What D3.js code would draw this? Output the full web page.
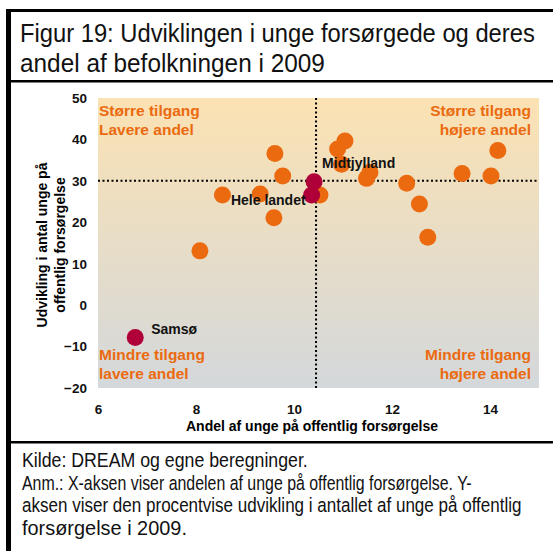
<!DOCTYPE html>
<html>
<head>
<meta charset="utf-8">
<script src="https://cdn.jsdelivr.net/npm/d3@7.9.0/dist/d3.min.js"></script>
<style>
  body { margin: 0; background: #fff; }
  svg { display: block; }
</style>
</head>
<body>
<svg width="553" height="551"></svg>
<script>
// municipalities / regions: share of young people on public support (x) and growth in % (y)
const orangeX = [9.61, 9.77, 8.54, 9.31, 9.59, 8.08, 11.04, 10.89, 10.97, 11.55, 11.48, 12.30, 12.56, 12.73, 13.43, 14.02, 14.16, 10.53];
const orangeY = [36.6, 31.2, 26.6, 26.8, 21.1, 13.1, 39.6, 37.7, 34.0, 32.1, 30.6, 29.4, 24.4, 16.4, 31.8, 31.2, 37.3, 26.6];

const namedLabels = ["Midtjylland", "Hele landet", "Samsø"];
const namedX = [10.41, 10.36, 6.76];
const namedY = [29.8, 26.6, -7.8];

const xTicks = [6, 8, 10, 12, 14];
const yTicks = [-20, -10, 0, 10, 20, 30, 40, 50];
const refX = 10.45; // Hele landet andel
const refY = 30;

const titleLines = ["Figur 19: Udviklingen i unge forsørgede og deres", "andel af befolkningen i 2009"];
const noteLines = [
  "Kilde: DREAM og egne beregninger.",
  "Anm.: X-aksen viser andelen af unge på offentlig forsørgelse. Y-",
  "aksen viser den procentvise udvikling i antallet af unge på offentlig",
  "forsørgelse i 2009."
];

const svg = d3.select("svg");
const W = 553, H = 551;
const plot = { left: 98, right: 539, top: 98, bottom: 388 };
const orange = "#eb6a0f";
const crimson = "#b0003a";
const sans = "'Liberation Sans', Arial, sans-serif";

// frame
svg.append("rect").attr("x", 6).attr("y", 9).attr("width", 5).attr("height", H - 9).attr("fill", "#000");
svg.append("rect").attr("x", 6).attr("y", 9).attr("width", W - 6).attr("height", 3).attr("fill", "#000");
svg.append("rect").attr("x", 6).attr("y", 80).attr("width", W - 6).attr("height", 2.5).attr("fill", "#000");
svg.append("rect").attr("x", 6).attr("y", 441).attr("width", W - 6).attr("height", 2.5).attr("fill", "#000");

// narrow look: regular sans squeezed so each line spans its width in the original
function narrowLines(lines, x0, y0, step, size, widths) {
  lines.forEach((s, i) => {
    const g = svg.append("g");
    const t = g.append("text").attr("x", 0).attr("y", 0)
      .style("font-family", sans).style("font-size", size + "px").attr("fill", "#111")
      .text(s);
    const k = widths[i] / t.node().getComputedTextLength();
    g.attr("transform", `translate(${x0},${y0 + i * step}) scale(${k},1)`);
  });
}
narrowLines(titleLines, 20, 42, 30, 26.5, [515, 305]);
narrowLines(noteLines, 22, 467, 22.5, 19.5, [286, 450, 500, 165]);

const x = d3.scaleLinear().domain([6, 15]).range([plot.left, plot.right]);
const y = d3.scaleLinear().domain([-20, 50]).range([plot.bottom, plot.top]);

// background gradient
const grad = svg.append("defs").append("linearGradient")
  .attr("id", "bg").attr("x1", 0).attr("y1", 0).attr("x2", 0).attr("y2", 1);
grad.append("stop").attr("offset", "0%").attr("stop-color", "#fbe2b3");
grad.append("stop").attr("offset", "100%").attr("stop-color", "#d4d8db");

svg.append("rect")
  .attr("x", x(6)).attr("y", y(50))
  .attr("width", x(15) - x(6)).attr("height", y(-20) - y(50))
  .attr("fill", "url(#bg)");

// axes (labels only)
const xAxis = svg.append("g")
  .attr("transform", `translate(0,${plot.bottom})`)
  .call(d3.axisBottom(x).tickValues(xTicks).tickSize(0).tickPadding(16));
const yAxis = svg.append("g")
  .attr("transform", `translate(${plot.left},0)`)
  .call(d3.axisLeft(y).tickValues(yTicks).tickSize(0).tickPadding(11));
[xAxis, yAxis].forEach(g => {
  g.select(".domain").remove();
  g.selectAll("text").style("font-family", sans).style("font-size", "13.5px")
    .style("font-weight", "bold").attr("fill", "#111");
});

// axis titles
svg.append("text")
  .attr("x", 312).attr("y", 431)
  .attr("text-anchor", "middle")
  .style("font-family", sans).style("font-size", "14px").style("font-weight", "bold")
  .text("Andel af unge på offentlig forsørgelse");

const yTitle = svg.append("text")
  .attr("transform", "translate(0,245) rotate(-90)")
  .attr("text-anchor", "middle")
  .style("font-family", sans).style("font-size", "14px").style("font-weight", "bold");
yTitle.append("tspan").attr("x", 0).attr("y", 47).text("Udvikling i antal unge på");
yTitle.append("tspan").attr("x", 0).attr("y", 65).text("offentlig forsørgelse");

// reference lines
svg.append("line")
  .attr("x1", x(6)).attr("x2", x(15)).attr("y1", y(refY)).attr("y2", y(refY))
  .attr("stroke", "#000").attr("stroke-width", 2).attr("stroke-dasharray", "2,2.5");
svg.append("line")
  .attr("x1", x(refX)).attr("x2", x(refX)).attr("y1", y(50)).attr("y2", y(-20))
  .attr("stroke", "#000").attr("stroke-width", 2).attr("stroke-dasharray", "2,2.5");

// quadrant labels
const quad = [
  { t: ["Større tilgang", "Lavere andel"], x: plot.left + 1, y: 115.5, a: "start" },
  { t: ["Større tilgang", "højere andel"], x: plot.right - 8, y: 115.5, a: "end" },
  { t: ["Mindre tilgang", "lavere andel"], x: plot.left + 1, y: 359.5, a: "start" },
  { t: ["Mindre tilgang", "højere andel"], x: plot.right - 8, y: 359.5, a: "end" }
];
quad.forEach(q => {
  const t = svg.append("text").attr("text-anchor", q.a)
    .style("font-family", sans).style("font-size", "15.5px").style("font-weight", "bold")
    .attr("fill", orange);
  q.t.forEach((s, i) => t.append("tspan").attr("x", q.x).attr("y", q.y + i * 19).text(s));
});

// points
const orangePts = orangeX.map((v, i) => ({ x: v, y: orangeY[i] }));
svg.append("g").selectAll("circle").data(orangePts).join("circle")
  .attr("cx", d => x(d.x)).attr("cy", d => y(d.y)).attr("r", 8.5)
  .attr("fill", orange);

const named = namedLabels.map((n, i) => ({ name: n, x: namedX[i], y: namedY[i] }));
svg.append("g").selectAll("circle").data(named).join("circle")
  .attr("cx", d => x(d.x)).attr("cy", d => y(d.y)).attr("r", 8.5)
  .attr("fill", crimson);

const labelOffset = {
  "Midtjylland": { dx: 8, dy: -14, a: "start" },
  "Hele landet": { dx: -6, dy: 10, a: "end" },
  "Samsø": { dx: 16, dy: -3, a: "start" }
};
svg.append("g").selectAll("text").data(named).join("text")
  .attr("x", d => x(d.x) + labelOffset[d.name].dx)
  .attr("y", d => y(d.y) + labelOffset[d.name].dy)
  .attr("text-anchor", d => labelOffset[d.name].a)
  .style("font-family", sans).style("font-size", "14px").style("font-weight", "bold")
  .attr("fill", "#111")
  .text(d => d.name);
</script>
</body>
</html>
